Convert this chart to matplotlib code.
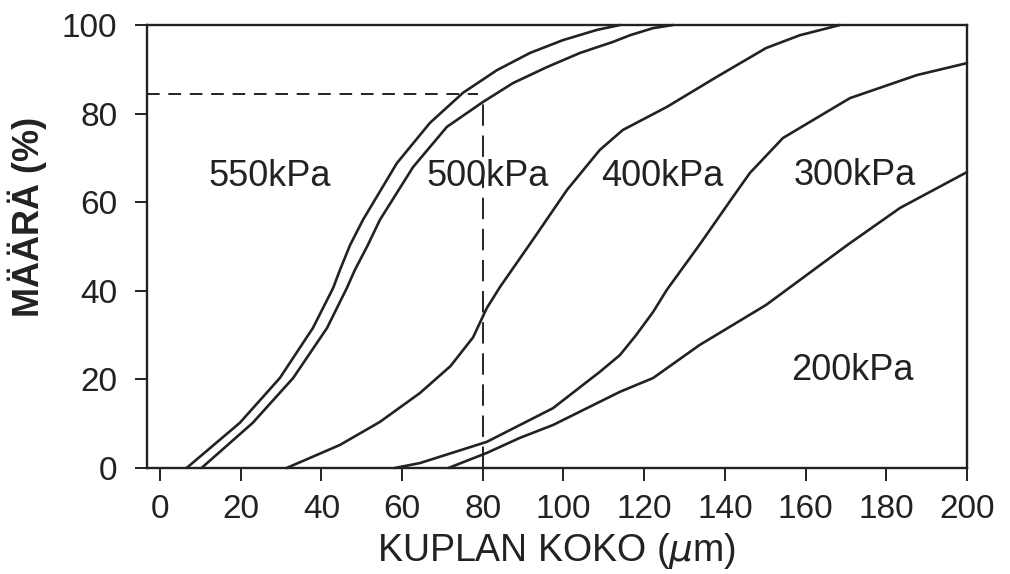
import matplotlib.pyplot as plt

plt.rcParams['font.family'] = ['Liberation Sans', 'DejaVu Sans']

# values (x = kuplan koko um, y = maara %)
x_550 = [6.6, 19.8, 29.7, 37.9, 42.9, 44.6, 47.1, 50.3, 58.7, 66.9, 75.1, 83.5, 91.7, 99.9, 108.3, 114.0]
y_550 = [0, 10.2, 20.3, 31.6, 40.6, 44.7, 50.3, 56.0, 68.8, 77.9, 84.7, 89.8, 93.7, 96.6, 98.9, 100]

x_500 = [10.3, 23.0, 33.0, 41.4, 46.3, 48.3, 51.5, 54.5, 62.7, 71.1, 80.0, 87.5, 95.9, 104.1, 112.3, 116.5, 122.2, 127.1]
y_500 = [0, 10.2, 20.3, 31.6, 40.6, 44.7, 50.3, 56.0, 67.9, 77.0, 82.6, 86.9, 90.5, 93.7, 96.2, 97.7, 99.3, 100]

x_400 = [31.4, 44.6, 54.5, 64.4, 72.0, 77.6, 81.0, 84.3, 92.4, 100.9, 109.0, 114.7, 125.6, 138.0, 150.2, 158.6, 168.5]
y_400 = [0, 5.2, 10.4, 16.9, 23.0, 29.5, 36.1, 40.9, 51.5, 62.8, 71.8, 76.3, 81.5, 88.3, 94.8, 97.7, 100]

x_300 = [58.2, 64.4, 81.0, 97.4, 109.0, 114.0, 118.0, 122.2, 125.6, 133.8, 142.0, 146.2, 154.4, 171.0, 187.6, 200]
y_300 = [0, 1.1, 5.9, 13.5, 21.7, 25.5, 30.0, 35.2, 40.2, 50.5, 61.2, 66.6, 74.5, 83.5, 88.7, 91.4]

x_200 = [71.5, 81.0, 89.2, 97.4, 114.0, 122.2, 133.8, 150.2, 170.3, 183.4, 200]
y_200 = [0, 3.4, 6.8, 9.7, 17.2, 20.3, 27.8, 36.8, 50.3, 58.7, 66.8]

labels = ['550kPa', '500kPa', '400kPa', '300kPa', '200kPa']
label_x = [27.3, 81.3, 124.4, 172.2, 171.5]
label_y = [65.7, 65.7, 65.7, 66.1, 22.1]

xticks = [0, 20, 40, 60, 80, 100, 120, 140, 160, 180, 200]
yticks = [0, 20, 40, 60, 80, 100]

# dashed reading guide at 84 %
guide_x = 80
guide_y = 84.4
guide_x_end = 78.8
guide_y_end = 82.6

ink = '#222222'

fig = plt.figure(figsize=(10.1, 5.74), dpi=100)
ax = fig.add_axes([0.1452, 0.1847, 0.8122, 0.7717])

for xs, ys in [(x_550, y_550), (x_500, y_500), (x_400, y_400), (x_300, y_300), (x_200, y_200)]:
    ax.plot(xs, ys, color=ink, lw=1.9, solid_joinstyle='round', solid_capstyle='round', clip_on=False)

ax.plot([-3.3, guide_x_end], [guide_y, guide_y], color=ink, lw=1.4, linestyle=(0, (6.5, 4.5)))
ax.plot([guide_x, guide_x], [0, guide_y_end], color=ink, lw=1.4, linestyle=(0, (11, 5)))

for t, lx, ly in zip(labels, label_x, label_y):
    ax.text(lx, ly, t, fontsize=26, color=ink, ha='center', va='center')

ax.set_xlim(-3.3, 200)
ax.set_ylim(0, 100)
ax.set_xticks(xticks)
ax.set_yticks(yticks)
ax.tick_params(direction='out', length=9, width=1.4, colors=ink, labelsize=24)
ax.tick_params(axis='y', pad=12)
ax.tick_params(axis='x', pad=10)
for s in ax.spines.values():
    s.set_linewidth(1.7)
    s.set_color(ink)

ax.set_xlabel('KUPLAN KOKO ($\\mu$m)', fontsize=27, color=ink)
ax.xaxis.set_label_coords(0.5, -0.142)
ax.set_ylabel('MÄÄRÄ (%)', fontsize=26, color=ink, fontweight='bold')
ax.yaxis.set_label_coords(-0.122, 0.567)

plt.savefig('out.png', dpi=100)
